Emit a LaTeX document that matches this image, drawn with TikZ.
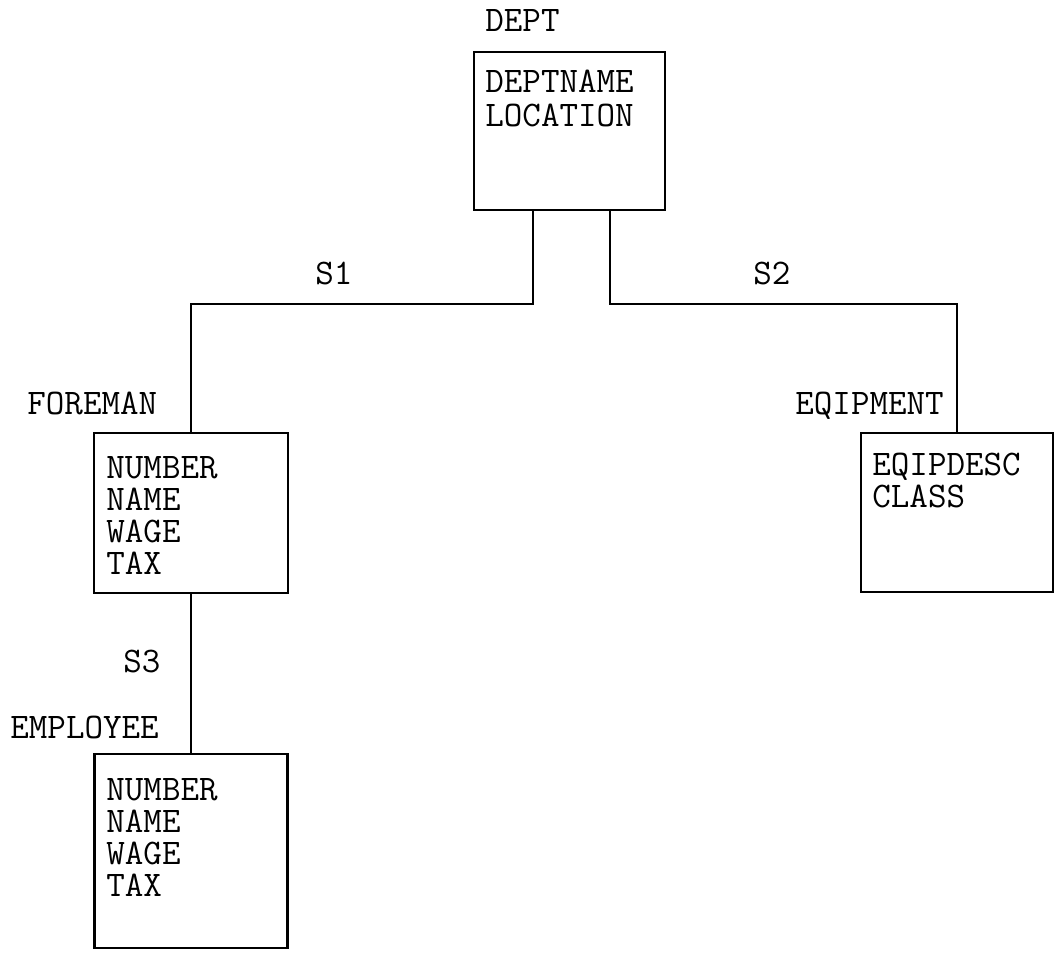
\documentclass[tikz,border=0pt]{standalone}
\usepackage{fontspec}
\tikzset{
  px/.style={x=0.5pt,y=-0.5pt},
  ebox/.style={draw,line width=1.2pt,rectangle,inner sep=0pt},
  txt/.style={anchor=base west,inner sep=0pt,font=\ttfamily\fontsize{18pt}{18pt}\selectfont},
  link/.style={line width=1pt}
}
\begin{document}
\begin{tikzpicture}[px]
\useasboundingbox (0,0) rectangle (1058,956);
% boxes
\node[ebox,minimum width=95.5pt,minimum height=79pt] (dept) at (569.5,131) {};
\node[ebox,minimum width=97pt,minimum height=80pt] (foreman) at (191,513) {};
\node[ebox,minimum width=96pt,minimum height=79.5pt] (eqip) at (957,512.5) {};
\node[ebox,minimum width=96.5pt,minimum height=97pt] (employee) at (191,851) {};
% entity labels
\node[txt] (ldept) at (485,32) {DEPT};
\node[txt] (lforeman) at (27,415) {FOREMAN};
\node[txt] (leqip) at (795,415) {EQIPMENT};
\node[txt] (lemployee) at (10,738) {EMPLOYEE};
% set labels
\node[txt] (s1) at (315,285) {S1};
\node[txt] (s2) at (753,285) {S2};
\node[txt] (s3) at (123,672) {S3};
% fields
\node[txt] (d1) at (485,93) {DEPTNAME};
\node[txt] (d2) at (485,127) {LOCATION};
\node[txt] (f1) at (106,478) {NUMBER};
\node[txt] (f2) at (106,510) {NAME};
\node[txt] (f3) at (106,542) {WAGE};
\node[txt] (f4) at (106,574) {TAX};
\node[txt] (q1) at (872,475) {EQIPDESC};
\node[txt] (q2) at (872,507) {CLASS};
\node[txt] (e1) at (106,800) {NUMBER};
\node[txt] (e2) at (106,832) {NAME};
\node[txt] (e3) at (106,864) {WAGE};
\node[txt] (e4) at (106,896) {TAX};
% connectors
\coordinate (j1) at (533,304);
\coordinate (j2) at (610,304);
\draw[link] (dept.south -| j1) -- (j1) -| (foreman.north);
\draw[link] (dept.south -| j2) -- (j2) -| (eqip.north);
\draw[link] (foreman.south) -- (employee.north);
\end{tikzpicture}
\end{document}
